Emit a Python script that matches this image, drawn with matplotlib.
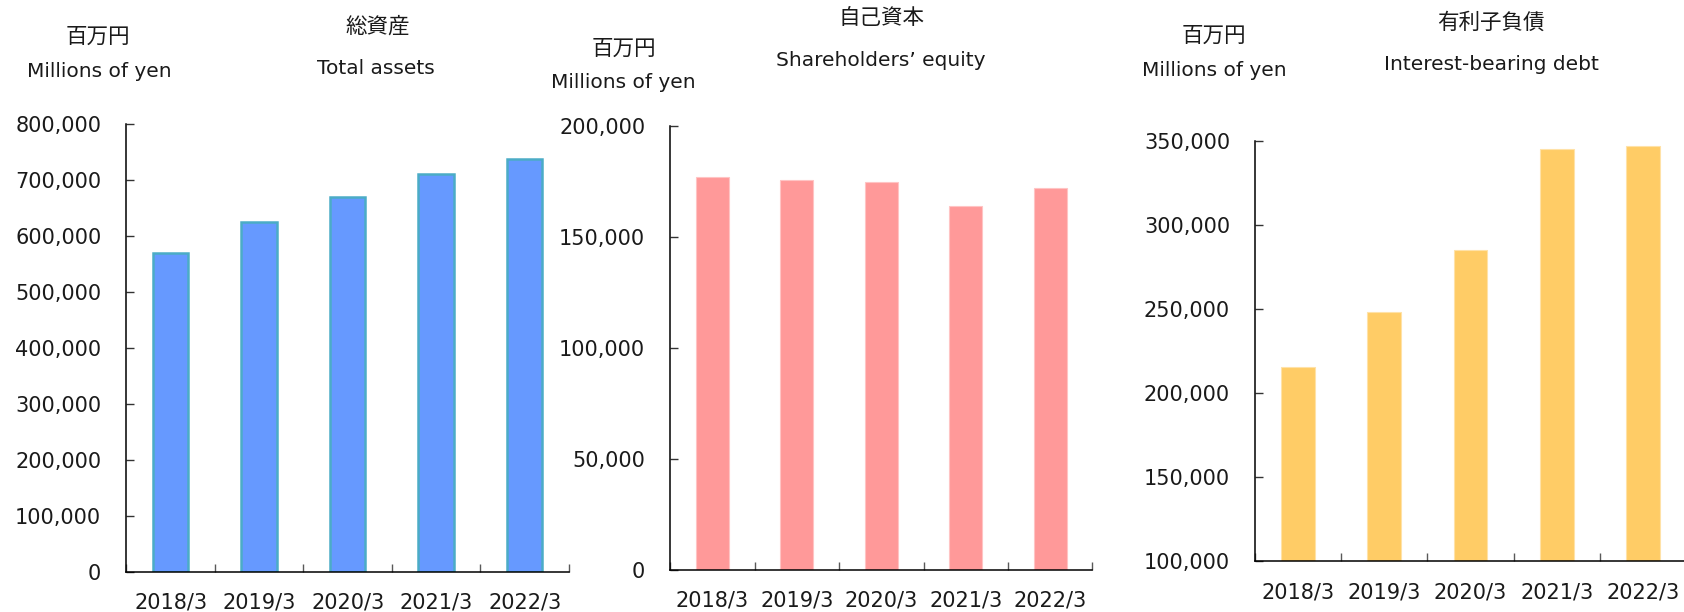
import matplotlib
matplotlib.use("Agg")
import matplotlib.pyplot as plt
from matplotlib.ticker import FuncFormatter

plt.rcParams['font.family'] = ['DejaVu Sans', 'Noto Sans CJK JP']

categories = ['2018/3', '2019/3', '2020/3', '2021/3', '2022/3']
total_assets = [569600, 625000, 669000, 709600, 736400]
equity = [177000, 175500, 174600, 163800, 172200]
debt = [215700, 248400, 285300, 345200, 347200]

W, H = 1684, 612
fig = plt.figure(figsize=(W / 100, H / 100), dpi=100)


def ax_rect(left, right, top, bottom):
    return [left / W, (H - bottom) / H, (right - left) / W, (bottom - top) / H]


def ftext(x, y, s, size=14.5):
    fig.text(x / W, 1 - y / H, s, ha='center', va='center', fontsize=size, color='#1a1a1a')


panels = [
    dict(rect=ax_rect(126.3, 569.0, 123.7, 572.0), data=total_assets, ylim=(0, 800000),
         yticks=list(range(0, 800001, 100000)), fc='#6699ff', ec='#4bacc6', lw=1.8, width=0.40),
    dict(rect=ax_rect(670.3, 1092.3, 126.0, 570.0), data=equity, ylim=(0, 200000),
         yticks=list(range(0, 200001, 50000)), fc='#ff9999', ec='#ffc4c4', lw=0.8, width=0.39),
    dict(rect=ax_rect(1255.0, 1686.0, 141.3, 561.3), data=debt, ylim=(100000, 350000),
         yticks=list(range(100000, 350001, 50000)), fc='#ffcc66', ec='#ffe2a8', lw=0.8, width=0.39),
]

x = list(range(len(categories)))
for p in panels:
    ax = fig.add_axes(p['rect'])
    ax.bar(x, p['data'], width=p['width'], color=p['fc'], edgecolor=p['ec'],
           linewidth=p['lw'], zorder=2)
    ax.set_xlim(-0.5, len(categories) - 0.5)
    ax.set_ylim(*p['ylim'])
    ax.set_yticks(p['yticks'])
    ax.yaxis.set_major_formatter(FuncFormatter(lambda v, _: f'{v:,.0f}'))
    ax.set_xticks([i - 0.5 for i in range(len(categories) + 1)])
    ax.set_xticklabels([])
    ax.set_xticks(x, minor=True)
    ax.set_xticklabels(categories, minor=True)
    ax.tick_params(axis='x', which='minor', length=0, pad=15, labelsize=15, labelcolor='#1a1a1a')
    ax.tick_params(axis='x', which='major', direction='in', length=6, width=1.0, color='#595959')
    ax.tick_params(axis='y', direction='in', length=6, width=1.0, color='#333333', pad=18,
                   labelsize=15, labelcolor='#1a1a1a')
    for s in ['top', 'right']:
        ax.spines[s].set_visible(False)
    for s in ['left', 'bottom']:
        ax.spines[s].set_linewidth(1.1)
        ax.spines[s].set_color('black')
    ax.patch.set_alpha(0)

# Header texts
JP = 15.5
ftext(98, 36.7, '百万円', JP)
ftext(99, 71.7, 'Millions of yen')
ftext(378, 26.7, '総資産', JP)
ftext(376, 68.3, 'Total assets')

ftext(624, 49.3, '百万円', JP)
ftext(623, 82.7, 'Millions of yen')
ftext(882, 18.3, '自己資本', JP)
ftext(881, 61.0, 'Shareholders\u2019 equity')

ftext(1213.6, 36.0, '百万円', JP)
ftext(1214.7, 70.7, 'Millions of yen')
ftext(1491.0, 22.7, '有利子負債', JP)
ftext(1491.8, 65.0, 'Interest-bearing debt')

fig.savefig('out.png', dpi=100)
